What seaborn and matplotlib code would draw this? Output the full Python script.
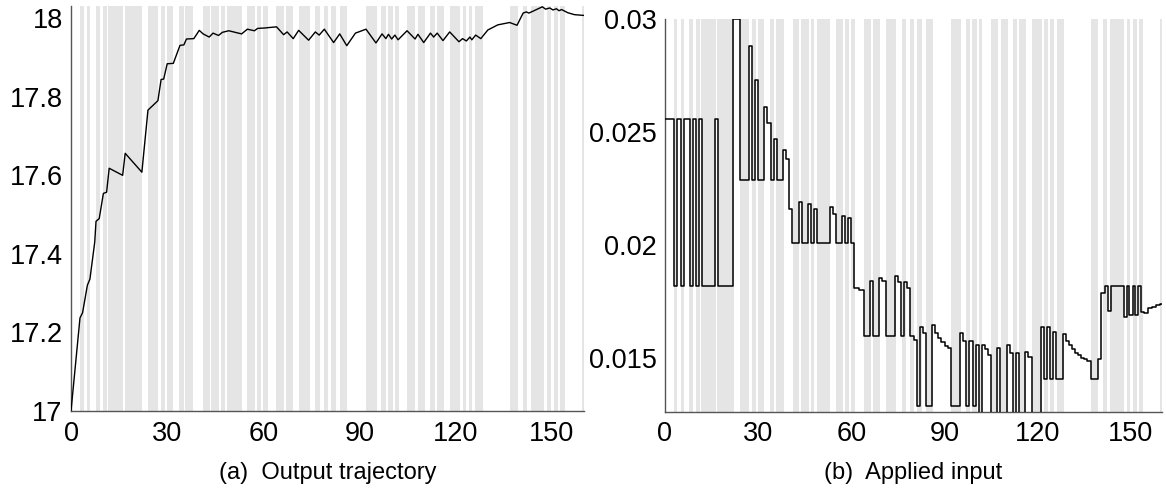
import numpy as np
import pandas as pd
import matplotlib
matplotlib.use("Agg")
import matplotlib.pyplot as plt
import seaborn as sns

# shaded intervals (same event pattern in both panels)
BAND_START = [2.8, 5.0, 7.8, 10.0, 11.6, 16.7, 24.0, 28.0, 29.8, 33.8, 35.7, 41.1, 43.8, 46.9,
              48.8, 55.0, 57.9, 59.9, 64.0, 67.0, 71.0, 76.2, 79.0, 81.2, 84.0, 92.0, 96.8,
              98.9, 101.0, 104.9, 108.2, 112.1, 114.0, 118.1, 122.1, 124.0, 126.1, 137.0,
              141.0, 143.3, 148.6, 150.5, 152.5, 159.4]
BAND_END = [4.0, 6.0, 8.9, 11.2, 16.3, 22.1, 27.0, 29.2, 31.8, 35.1, 38.2, 43.2, 46.3, 48.1,
            53.2, 57.3, 59.1, 61.3, 66.3, 69.3, 74.4, 77.5, 80.3, 82.6, 86.2, 95.4, 98.1,
            100.3, 102.2, 107.2, 110.3, 113.4, 116.3, 121.3, 123.3, 125.2, 128.4, 139.3,
            142.2, 147.6, 149.8, 151.9, 154.0, 160.0]

# (a) output trajectory
out_t = [0, 2.8, 3.6, 5.1, 5.9, 7.4, 7.8, 8.8, 10.1, 11.1, 11.9, 16.1, 16.9, 22.1, 24, 27.1,
         28.1, 28.9, 30, 31.9, 34, 35.2, 36, 38.3, 40, 41.2, 43.1, 44.3, 46, 47.2, 49.2, 53.2,
         55, 57.2, 58.2, 60.3, 64.1, 66.3, 67.4, 69.3, 71, 74.1, 76.2, 77.4, 79, 81.9, 83.8,
         86, 88.7, 92, 95.1, 97, 98.2, 99, 100, 101, 102, 104.8, 107.3, 108.2, 110, 112.1,
         113.1, 114.2, 116, 118.1, 121, 122.1, 123.3, 124.4, 125, 126.2, 127.8, 130, 133.1,
         136.8, 139.1, 141, 142, 142.8, 147, 148, 149.3, 150.3, 151.4, 152.2, 153, 154.9,
         157, 160]
out_y = [17.0, 17.237, 17.25, 17.32, 17.336, 17.43, 17.483, 17.49, 17.554, 17.557, 17.618,
         17.60, 17.656, 17.608, 17.766, 17.79, 17.844, 17.845, 17.884, 17.885, 17.931, 17.932,
         17.947, 17.948, 17.969, 17.96, 17.952, 17.962, 17.956, 17.964, 17.968, 17.96, 17.972,
         17.968, 17.974, 17.975, 17.978, 17.958, 17.965, 17.948, 17.969, 17.944, 17.965,
         17.957, 17.972, 17.938, 17.96, 17.93, 17.962, 17.972, 17.937, 17.96, 17.948, 17.959,
         17.947, 17.957, 17.945, 17.968, 17.947, 17.959, 17.938, 17.962, 17.952, 17.962,
         17.943, 17.965, 17.94, 17.948, 17.942, 17.952, 17.945, 17.957, 17.948, 17.97, 17.983,
         17.989, 17.982, 18.013, 18.016, 18.013, 18.029, 18.023, 18.026, 18.021, 18.024,
         18.019, 18.022, 18.014, 18.009, 18.007]

# (b) applied input, piecewise constant (value holds from each time on)
in_t = [0, 3, 4, 5, 6, 8, 9, 10, 11, 12, 16, 17, 22, 24, 27, 28, 29, 30, 32, 33, 34, 35, 36,
        38, 39, 40, 41, 43, 44, 46, 47, 48, 49, 53, 54, 55, 57, 58, 59, 60, 61, 62.5, 64, 66,
        67, 69, 70, 71, 74, 75, 76, 77, 78, 79, 80, 81, 82, 83, 84, 86, 87, 88, 89, 90, 91,
        92, 95, 96, 97, 98, 99, 100, 101, 102, 103, 104, 105, 107, 108, 110, 111, 112, 113,
        114, 116, 117, 118, 121, 122, 123, 124, 125, 126, 128, 129, 130, 131, 132, 133, 134,
        135, 136, 137, 139.5, 140.4, 141.5, 142.5, 143.5, 147.6, 148.6, 149.4, 150.5, 151.3,
        152.4, 153.2, 154.3, 155.5, 156.8, 158, 159.5, 160]
in_u = [0.0256, 0.0182, 0.0256, 0.0182, 0.0256, 0.0182, 0.0256, 0.0182, 0.0256, 0.0182,
        0.0256, 0.0182, 0.0300, 0.0229, 0.0288, 0.0229, 0.0273, 0.0229, 0.0261, 0.0254,
        0.0229, 0.0247, 0.0229, 0.0242, 0.0238, 0.0216, 0.0201, 0.0219, 0.0201, 0.0218,
        0.0201, 0.0216, 0.0201, 0.0217, 0.0214, 0.0201, 0.0213, 0.0201, 0.0212, 0.0201,
        0.0181, 0.0180, 0.0160, 0.0184, 0.0160, 0.01856, 0.01842, 0.0160, 0.01862, 0.01836,
        0.0160, 0.01836, 0.01809, 0.0160, 0.0158, 0.0129, 0.0164, 0.0161, 0.0129, 0.01647,
        0.0161, 0.01591, 0.01571, 0.01556, 0.01544, 0.0129, 0.0161, 0.01576, 0.0129, 0.01576,
        0.0129, 0.01559, 0.0120, 0.01559, 0.0154, 0.01515, 0.0120, 0.01544, 0.0120, 0.01559,
        0.01522, 0.0120, 0.01522, 0.0120, 0.0153, 0.01507, 0.0120, 0.0164, 0.01408, 0.0164,
        0.01408, 0.01618, 0.01408, 0.01606, 0.01576, 0.01559, 0.0154, 0.01525, 0.01513,
        0.01503, 0.01495, 0.01488, 0.01408, 0.01497, 0.01787, 0.0182, 0.0171, 0.0182,
        0.01681, 0.0182, 0.0169, 0.0182, 0.0169, 0.0182, 0.01703, 0.0170, 0.01721, 0.01728,
        0.01735, 0.01739, 0.0174]

out_ticks = [17, 17.2, 17.4, 17.6, 17.8, 18]
in_ticks = [0.015, 0.02, 0.025, 0.03]
x_ticks = [0, 30, 60, 90, 120, 150]

sns.set_style("white")
plt.rcParams["font.family"] = ["Liberation Sans", "DejaVu Sans"]
plt.rcParams["text.color"] = "black"
plt.rcParams["xtick.labelcolor"] = "black"
plt.rcParams["ytick.labelcolor"] = "black"

fig = plt.figure(figsize=(11.66, 4.97), dpi=100)
ax1 = fig.add_axes([0.0609, 0.1730, 0.4400, 0.8149])
ax2 = fig.add_axes([0.5703, 0.1716, 0.4263, 0.7902])


def style_axis(ax):
    for s0, s1 in zip(BAND_START, BAND_END):
        ax.axvspan(s0, s1, color="#e5e5e5", lw=0, zorder=1)
    sns.despine(ax=ax)
    for side in ["left", "bottom"]:
        ax.spines[side].set_color("#555555")
        ax.spines[side].set_linewidth(1.0)
    ax.set_xlim(0, 160)
    ax.set_xticks(x_ticks)
    ax.tick_params(direction="in", length=3, width=0.8, color="#555555",
                   labelcolor="black", labelsize=19.5, pad=6)
    ax.tick_params(axis="x", pad=7)
    ax.set_xlabel("")
    ax.set_ylabel("")


df_out = pd.DataFrame({"t": out_t, "y": out_y})
sns.lineplot(data=df_out, x="t", y="y", ax=ax1, color="black", lw=1.0,
             estimator=None, zorder=3)
style_axis(ax1)
ax1.set_ylim(17, 18.031)
ax1.set_yticks(out_ticks)
ax1.set_yticklabels([f"{v:g}" for v in out_ticks])

df_in = pd.DataFrame({"t": in_t, "u": in_u})
sns.lineplot(data=df_in, x="t", y="u", ax=ax2, color="black", lw=1.1,
             estimator=None, drawstyle="steps-post", zorder=3)
style_axis(ax2)
ax2.set_ylim(0.01264, 0.03)
ax2.set_yticks(in_ticks)
ax2.set_yticklabels([f"{v:g}" for v in in_ticks])

fig.text(0.281, 0.048, "(a)  Output trajectory", ha="center", va="center",
         fontsize=17, color="black")
fig.text(0.7835, 0.048, "(b)  Applied input", ha="center", va="center",
         fontsize=17, color="black")

fig.savefig("out.png", dpi=100)
